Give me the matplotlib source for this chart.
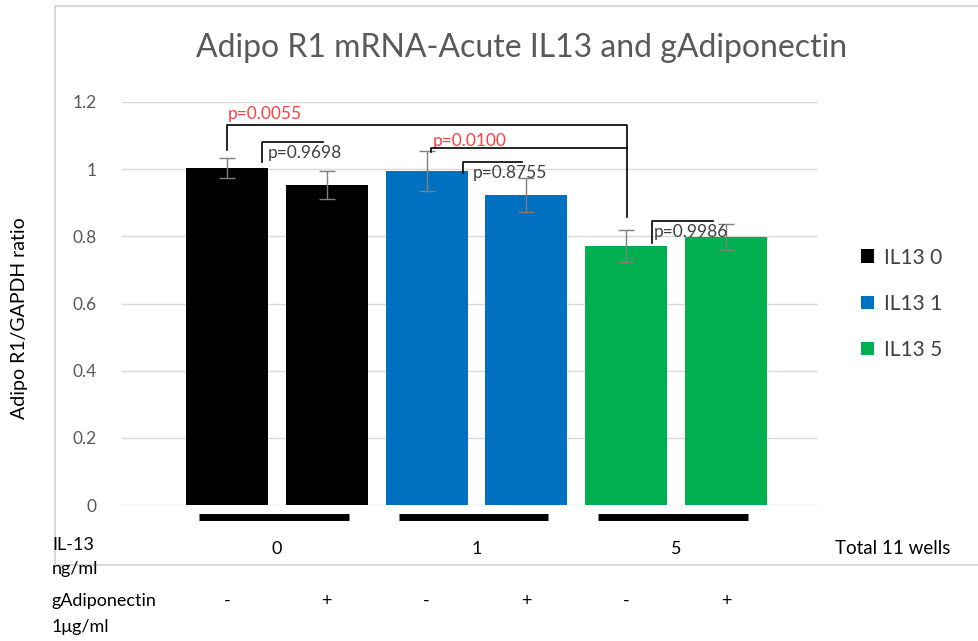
import matplotlib.pyplot as plt
from matplotlib.patches import Rectangle

plt.rcParams['font.family'] = ['Lato', 'DejaVu Sans']

series = ['IL13 0', 'IL13 1', 'IL13 5']
colors = ['#000000', '#0070C0', '#00B050']
values = [[1.003, 0.952], [0.994, 0.923], [0.771, 0.798]]
errors = [[0.03, 0.042], [0.06, 0.05], [0.047, 0.038]]
il13_doses = ['0', '1', '5']
adipo_signs = ['-', '+', '-', '+', '-', '+']

fig = plt.figure(figsize=(9.79, 6.41), dpi=100)
ax = fig.add_axes([122/979, 136/641, 696/979, 403/641])

# bars, two per IL13 dose
for i, name in enumerate(series):
    xs = [2*i, 2*i + 1]
    ax.bar(xs, values[i], width=0.82, color=colors[i], label=name, zorder=2)
    ax.errorbar(xs, values[i], yerr=errors[i], fmt='none', ecolor='#7f7f7f',
                elinewidth=1, capsize=6, capthick=1, zorder=3)

ax.set_xlim(-1.05, 5.92)
ax.set_ylim(0, 1.2)
ax.set_yticks([0, 0.2, 0.4, 0.6, 0.8, 1.0, 1.2])
ax.set_yticklabels(['0', '0.2', '0.4', '0.6', '0.8', '1', '1.2'])
ax.tick_params(axis='y', length=0, pad=18, labelsize=12.5, labelcolor='#595959')
ax.set_xticks([])
ax.grid(axis='y', color='#d9d9d9', linewidth=1, zorder=0)
ax.set_axisbelow(True)
for s in ax.spines.values():
    s.set_visible(False)

fig.text(522/979, 1 - 48/641, 'Adipo R1 mRNA-Acute IL13 and gAdiponectin',
         fontsize=23, color='#595959', ha='center', va='center')
fig.text(20/979, 1 - 318/641, 'Adipo R1/GAPDH ratio', rotation=90, fontsize=14,
         ha='center', va='center')

# significance brackets
k = dict(color='black', linewidth=1.2, clip_on=False, zorder=4)
ax.plot([0, 0, 4.01, 4.01], [1.057, 1.131, 1.131, 0.857], **k)
ax.plot([2.04, 2.04, 4.01], [1.05, 1.062, 1.062], **k)
ax.plot([0.35, 0.35, 0.96], [1.021, 1.080, 1.080], **k)
ax.plot([2.36, 2.36, 2.96], [0.988, 1.021, 1.021], **k)
ax.plot([4.26, 4.26, 4.87], [0.780, 0.845, 0.845], **k)
ax.text(0.005, 1.165, 'p=0.0055', color='#ff4040', fontsize=12.5, va='center')
ax.text(2.06, 1.085, 'p=0.0100', color='#ff4040', fontsize=12.5, va='center')
ax.text(0.41, 1.048, 'p=0.9698', color='#404040', fontsize=12.5, va='center')
ax.text(2.46, 0.988, 'p=0.8755', color='#404040', fontsize=12.5, va='center')
ax.text(4.28, 0.812, 'p=0.9986', color='#404040', fontsize=12.5, va='center')

# group bars and labels below axis
for g, dose in enumerate(il13_doses):
    c = 2*g + 0.47
    ax.plot([c - 0.75, c + 0.75], [-0.035, -0.035], color='black', linewidth=5,
            solid_capstyle='butt', clip_on=False)
    ax.text(2*g + 0.5, -0.13, dose, fontsize=13, ha='center', va='center')
for j, s in enumerate(adipo_signs):
    ax.text(j, -0.285, s, fontsize=13, ha='center', va='center')

fig.text(52/979, 1 - 545/641, 'IL-13', fontsize=13, va='center')
fig.text(52/979, 1 - 569/641, 'ng/ml', fontsize=13, va='center')
fig.text(52/979, 1 - 601/641, 'gAdiponectin', fontsize=13, va='center')
fig.text(52/979, 1 - 627/641, '1μg/ml', fontsize=13, va='center')
fig.text(835/979, 1 - 549/641, 'Total 11 wells', fontsize=13.5, va='center')

leg = fig.legend(loc='upper left', bbox_to_anchor=(842/979, 1 - 229/641),
                 frameon=False, fontsize=15, handlelength=0.65, handleheight=0.65,
                 handletextpad=0.45, labelspacing=1.25, labelcolor='#404040')

# chart area border
fig.patches.append(Rectangle((55/979, 1 - 565/641), 1.0, 559/641,
                             transform=fig.transFigure, fill=False,
                             edgecolor='#d9d9d9', linewidth=1.5))

fig.savefig('out.png', dpi=100)
